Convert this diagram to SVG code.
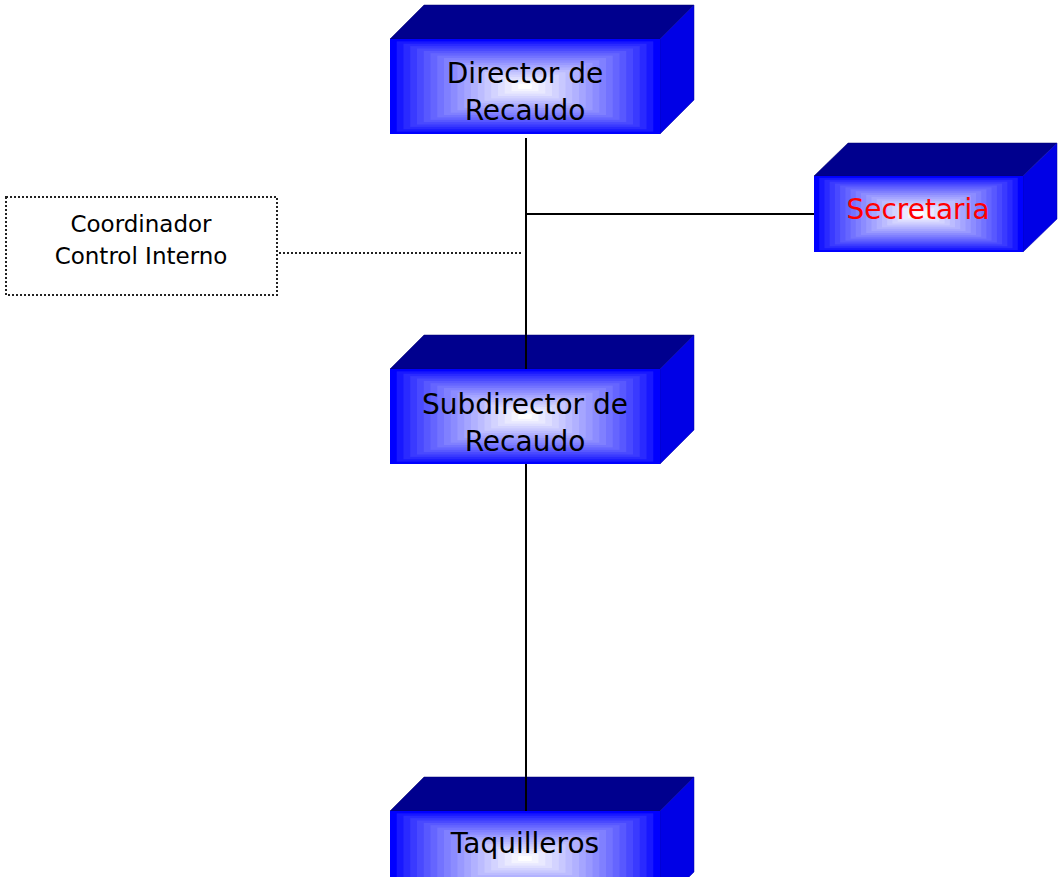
<svg xmlns="http://www.w3.org/2000/svg" xmlns:xlink="http://www.w3.org/1999/xlink" width="1060" height="877" viewBox="0 0 1060 877">
<style>
.top{fill:#00008E;stroke:#000070;stroke-width:0.5}
.side{fill:#0000E6;stroke:#0000A0;stroke-width:0.5}
.lbl{font-family:"DejaVu Sans",sans-serif;font-size:28px;text-anchor:middle;fill:#000}
.small{font-family:"DejaVu Sans",sans-serif;font-size:23px;text-anchor:middle;fill:#000}
.conn{stroke:#000;stroke-width:2;fill:none}
.dot{stroke:#222;stroke-width:2;stroke-dasharray:2 2;fill:none}
</style>
<defs>
<symbol id="grad" viewBox="0 0 100 100" preserveAspectRatio="none">
<rect x="0" y="0" width="100" height="100" fill="rgb(0,0,255)"/>
<rect x="2.5" y="2.5" width="95" height="95" fill="rgb(24,24,255)"/>
<rect x="5" y="5" width="90" height="90" fill="rgb(42,42,255)"/>
<rect x="7.5" y="7.5" width="85" height="85" fill="rgb(58,58,255)"/>
<rect x="10" y="10" width="80" height="80" fill="rgb(73,73,255)"/>
<rect x="12.5" y="12.5" width="75" height="75" fill="rgb(88,88,255)"/>
<rect x="15" y="15" width="70" height="70" fill="rgb(101,101,255)"/>
<rect x="17.5" y="17.5" width="65" height="65" fill="rgb(115,115,255)"/>
<rect x="20" y="20" width="60" height="60" fill="rgb(128,128,255)"/>
<rect x="22.5" y="22.5" width="55" height="55" fill="rgb(140,140,255)"/>
<rect x="25" y="25" width="50" height="50" fill="rgb(153,153,255)"/>
<rect x="27.5" y="27.5" width="45" height="45" fill="rgb(165,165,255)"/>
<rect x="30" y="30" width="40" height="40" fill="rgb(177,177,255)"/>
<rect x="32.5" y="32.5" width="35" height="35" fill="rgb(188,188,255)"/>
<rect x="35" y="35" width="30" height="30" fill="rgb(200,200,255)"/>
<rect x="37.5" y="37.5" width="25" height="25" fill="rgb(211,211,255)"/>
<rect x="40" y="40" width="20" height="20" fill="rgb(222,222,255)"/>
<rect x="42.5" y="42.5" width="15" height="15" fill="rgb(233,233,255)"/>
<rect x="45" y="45" width="10" height="10" fill="rgb(244,244,255)"/>
<rect x="47.5" y="47.5" width="5" height="5" fill="rgb(255,255,255)"/>
</symbol>
</defs>
<g id="connectors">
<line class="conn" x1="526" y1="138" x2="526" y2="369"/>
<line class="conn" x1="526" y1="214" x2="814" y2="214"/>
<line class="conn" x1="526" y1="464" x2="526" y2="811"/>
<line class="dot" x1="279" y1="253" x2="523" y2="253"/>
</g>
<g id="director">
<polygon class="top" points="390,39 424,5 694,5 660,39"/>
<polygon class="side" points="660,39 694,5 694,100 660,134"/>
<use xlink:href="#grad" x="390" y="39" width="270" height="95"/>
<text class="lbl" x="525" y="83">Director de</text>
<text class="lbl" x="525" y="120">Recaudo</text>
</g>
<g id="secretaria">
<polygon class="top" points="814,176 848,143 1057,143 1023,176"/>
<polygon class="side" points="1023,176 1057,143 1057,219 1023,252"/>
<use xlink:href="#grad" x="814" y="176" width="209" height="76"/>
<text class="lbl" x="918" y="219" style="fill:#FF0000">Secretaria</text>
</g>
<g id="coordinador">
<rect class="dot" x="6" y="197" width="271" height="98"/>
<text class="small" x="141" y="232">Coordinador</text>
<text class="small" x="141" y="264">Control Interno</text>
</g>
<g id="subdirector">
<polygon class="top" points="390,369 424,335 694,335 660,369"/>
<polygon class="side" points="660,369 694,335 694,430 660,464"/>
<use xlink:href="#grad" x="390" y="369" width="270" height="95"/>
<line class="conn" x1="526" y1="335" x2="526" y2="369"/>
<text class="lbl" x="525" y="414">Subdirector de</text>
<text class="lbl" x="525" y="451">Recaudo</text>
</g>
<g id="taquilleros">
<polygon class="top" points="390,811 424,777 694,777 660,811"/>
<polygon class="side" points="660,811 694,777 694,872 660,906"/>
<use xlink:href="#grad" x="390" y="811" width="270" height="95"/>
<line class="conn" x1="526" y1="777" x2="526" y2="811"/>
<text class="lbl" x="525" y="853">Taquilleros</text>
</g>
</svg>
